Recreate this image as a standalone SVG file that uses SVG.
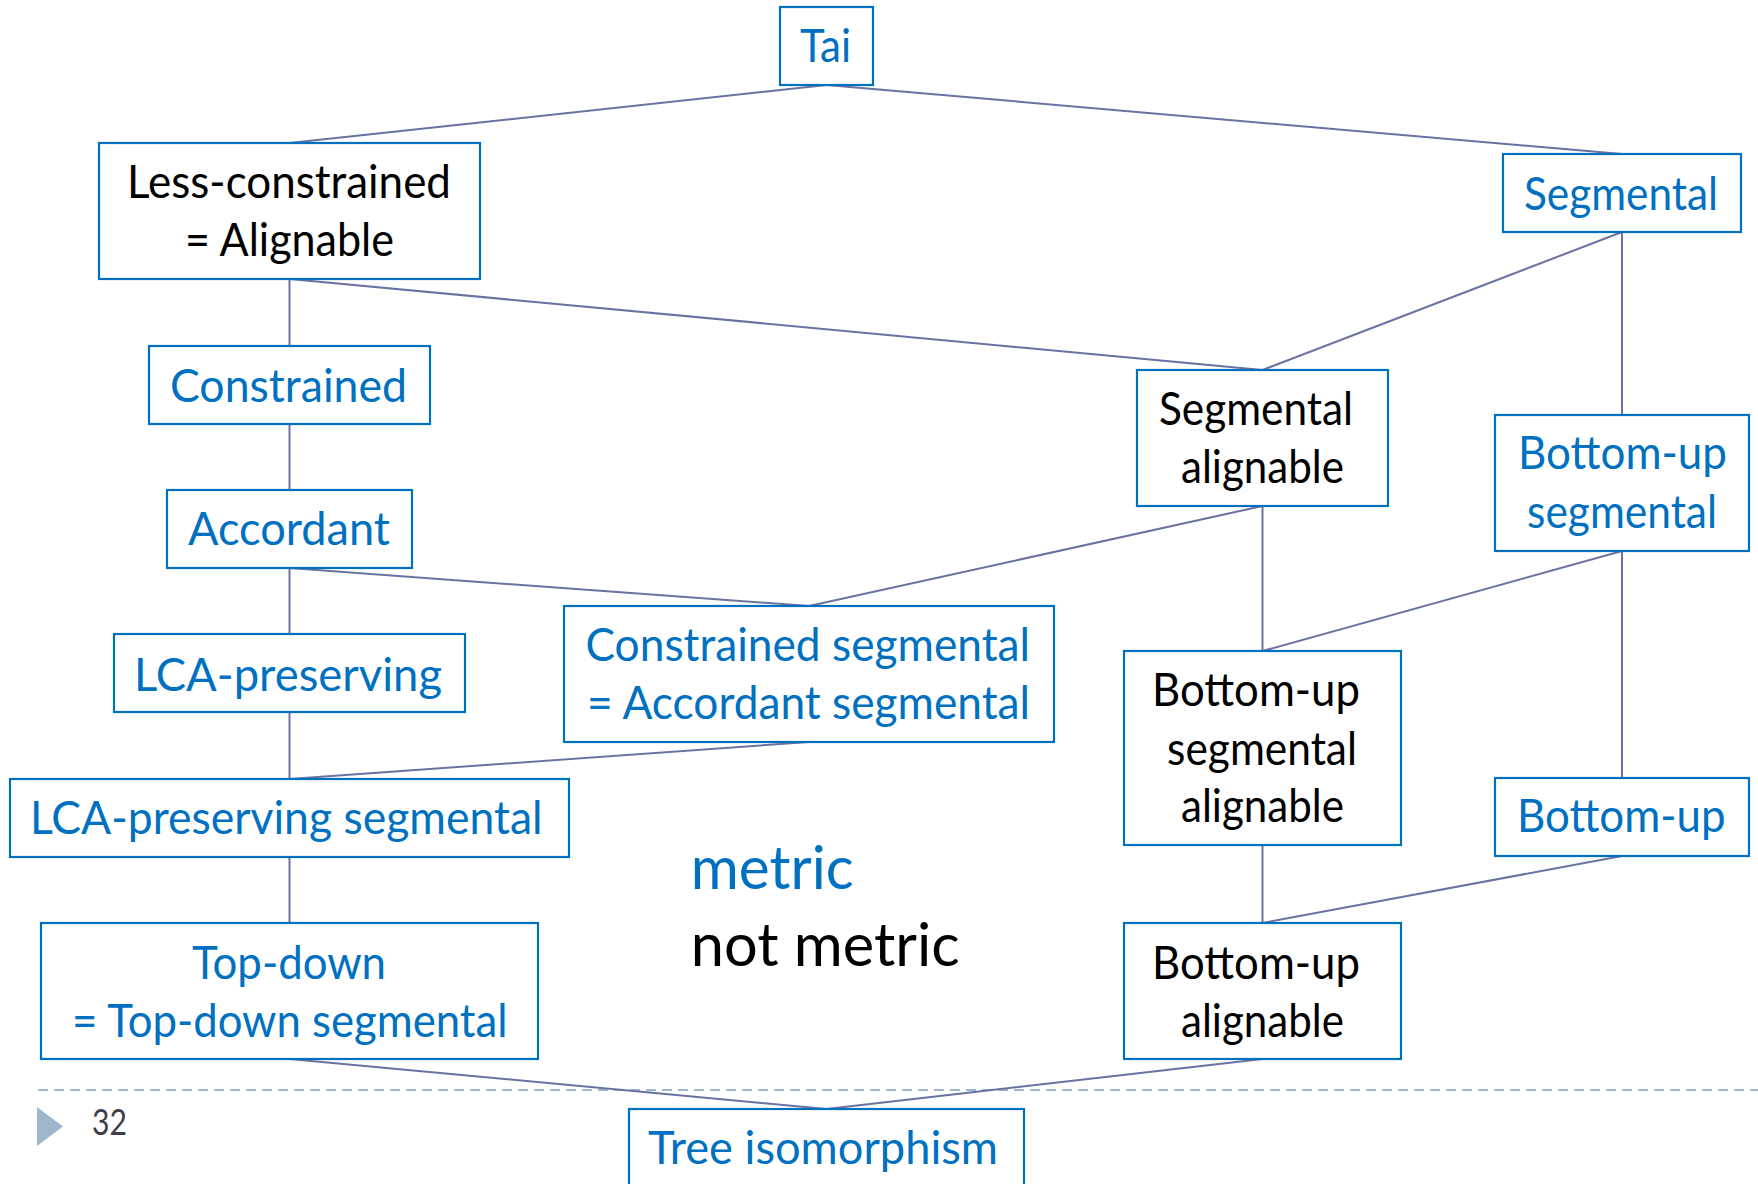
<svg xmlns="http://www.w3.org/2000/svg" width="1758" height="1184" viewBox="0 0 1758 1184">
  <style>
    .box { fill: #ffffff; stroke: #0070c0; stroke-width: 2.2; }
    .edge { stroke: #6a72a2; stroke-width: 2; fill: none; }
    text { font-family: Lato, "Open Sans", "Liberation Sans", sans-serif; font-size: 46px; }
    .blue { fill: #0070c0; }
    .black { fill: #000000; }
    .big { font-size: 60px; }
  </style>
  <rect width="1758" height="1184" fill="#ffffff"/>

  <!-- footer: dashed rule, marker and page number -->
  <g id="footer">
    <line x1="38" y1="1090" x2="1758" y2="1090" stroke="#9fb6cc" stroke-width="2" stroke-dasharray="10 6"/>
    <polygon points="37,1107 63,1126.5 37,1146" fill="#9fb6cc"/>
    <text x="92" y="1135" textLength="35" lengthAdjust="spacingAndGlyphs" style="font-size:36px" fill="#3d3d4a">32</text>
  </g>

  <!-- connectors -->
  <g id="connectors">
    <line class="edge" x1="826.5" y1="85" x2="289.5" y2="143"/>
    <line class="edge" x1="826.5" y1="85" x2="1622" y2="154"/>
    <line class="edge" x1="289.5" y1="279" x2="289.5" y2="346"/>
    <line class="edge" x1="289.5" y1="279" x2="1262.5" y2="370"/>
    <line class="edge" x1="1622" y1="232" x2="1262.5" y2="370"/>
    <line class="edge" x1="1622" y1="232" x2="1622" y2="415"/>
    <line class="edge" x1="289.5" y1="424" x2="289.5" y2="490"/>
    <line class="edge" x1="289.5" y1="568" x2="289.5" y2="634"/>
    <line class="edge" x1="289.5" y1="568" x2="809" y2="606"/>
    <line class="edge" x1="1262.5" y1="506" x2="809" y2="606"/>
    <line class="edge" x1="1262.5" y1="506" x2="1262.5" y2="651"/>
    <line class="edge" x1="1622" y1="551" x2="1262.5" y2="651"/>
    <line class="edge" x1="1622" y1="551" x2="1622" y2="778"/>
    <line class="edge" x1="289.5" y1="712" x2="289.5" y2="779"/>
    <line class="edge" x1="809" y1="742" x2="289.5" y2="779"/>
    <line class="edge" x1="289.5" y1="857" x2="289.5" y2="923"/>
    <line class="edge" x1="1262.5" y1="845" x2="1262.5" y2="923"/>
    <line class="edge" x1="1622" y1="856" x2="1262.5" y2="923"/>
    <line class="edge" x1="289.5" y1="1059" x2="826.5" y2="1109"/>
    <line class="edge" x1="1262.5" y1="1059" x2="826.5" y2="1109"/>
  </g>

  <!-- nodes -->
  <g id="tai">
    <rect class="box" x="780" y="7" width="93" height="78"/>
    <text class="blue" x="800" y="62" textLength="51" lengthAdjust="spacingAndGlyphs">Tai</text>
  </g>
  <g id="less-constrained">
    <rect class="box" x="99" y="143" width="381" height="136"/>
    <text class="black" x="127" y="198" textLength="324" lengthAdjust="spacingAndGlyphs">Less-constrained</text>
    <text class="black" x="185" y="256" textLength="209" lengthAdjust="spacingAndGlyphs">= Alignable</text>
  </g>
  <g id="segmental">
    <rect class="box" x="1503" y="154" width="238" height="78"/>
    <text class="blue" x="1524" y="210" textLength="194" lengthAdjust="spacingAndGlyphs">Segmental</text>
  </g>
  <g id="constrained">
    <rect class="box" x="149" y="346" width="281" height="78"/>
    <text class="blue" x="170" y="402" textLength="237" lengthAdjust="spacingAndGlyphs">Constrained</text>
  </g>
  <g id="segmental-alignable">
    <rect class="box" x="1137" y="370" width="251" height="136"/>
    <text class="black" x="1159" y="425" textLength="194" lengthAdjust="spacingAndGlyphs">Segmental</text>
    <text class="black" x="1181" y="483" textLength="163" lengthAdjust="spacingAndGlyphs">alignable</text>
  </g>
  <g id="bottom-up-segmental">
    <rect class="box" x="1495" y="415" width="254" height="136"/>
    <text class="blue" x="1518" y="469" textLength="209" lengthAdjust="spacingAndGlyphs">Bottom-up</text>
    <text class="blue" x="1527" y="528" textLength="190" lengthAdjust="spacingAndGlyphs">segmental</text>
  </g>
  <g id="accordant">
    <rect class="box" x="167" y="490" width="245" height="78"/>
    <text class="blue" x="188" y="545" textLength="202" lengthAdjust="spacingAndGlyphs">Accordant</text>
  </g>
  <g id="lca-preserving">
    <rect class="box" x="114" y="634" width="351" height="78"/>
    <text class="blue" x="134" y="691" textLength="308" lengthAdjust="spacingAndGlyphs">LCA-preserving</text>
  </g>
  <g id="constrained-segmental">
    <rect class="box" x="564" y="606" width="490" height="136"/>
    <text class="blue" x="585.5" y="661" textLength="444.5" lengthAdjust="spacingAndGlyphs">Constrained segmental</text>
    <text class="blue" x="587" y="719" textLength="443" lengthAdjust="spacingAndGlyphs">= Accordant segmental</text>
  </g>
  <g id="bottom-up-segmental-alignable">
    <rect class="box" x="1124" y="651" width="277" height="194"/>
    <text class="black" x="1152" y="706" textLength="208" lengthAdjust="spacingAndGlyphs">Bottom-up</text>
    <text class="black" x="1167" y="765" textLength="190" lengthAdjust="spacingAndGlyphs">segmental</text>
    <text class="black" x="1181" y="822" textLength="163" lengthAdjust="spacingAndGlyphs">alignable</text>
  </g>
  <g id="lca-preserving-segmental">
    <rect class="box" x="10" y="779" width="559" height="78"/>
    <text class="blue" x="30" y="834" textLength="512.5" lengthAdjust="spacingAndGlyphs">LCA-preserving segmental</text>
  </g>
  <g id="bottom-up">
    <rect class="box" x="1495" y="778" width="254" height="78"/>
    <text class="blue" x="1517" y="832" textLength="208.5" lengthAdjust="spacingAndGlyphs">Bottom-up</text>
  </g>
  <g id="top-down">
    <rect class="box" x="41" y="923" width="497" height="136"/>
    <text class="blue" x="192" y="979" textLength="194" lengthAdjust="spacingAndGlyphs">Top-down</text>
    <text class="blue" x="72" y="1036.5" textLength="435.5" lengthAdjust="spacingAndGlyphs">= Top-down segmental</text>
  </g>
  <g id="bottom-up-alignable">
    <rect class="box" x="1124" y="923" width="277" height="136"/>
    <text class="black" x="1152" y="979" textLength="208" lengthAdjust="spacingAndGlyphs">Bottom-up</text>
    <text class="black" x="1181" y="1036.5" textLength="163" lengthAdjust="spacingAndGlyphs">alignable</text>
  </g>
  <g id="tree-isomorphism">
    <rect class="box" x="629" y="1109" width="395" height="90"/>
    <text class="blue" x="648" y="1164" textLength="350" lengthAdjust="spacingAndGlyphs">Tree isomorphism</text>
  </g>

  <!-- legend -->
  <g id="legend">
    <text class="blue big" x="690.7" y="889" textLength="163" lengthAdjust="spacingAndGlyphs">metric</text>
    <text class="black big" x="690.7" y="966" textLength="269" lengthAdjust="spacingAndGlyphs">not metric</text>
  </g>
</svg>
